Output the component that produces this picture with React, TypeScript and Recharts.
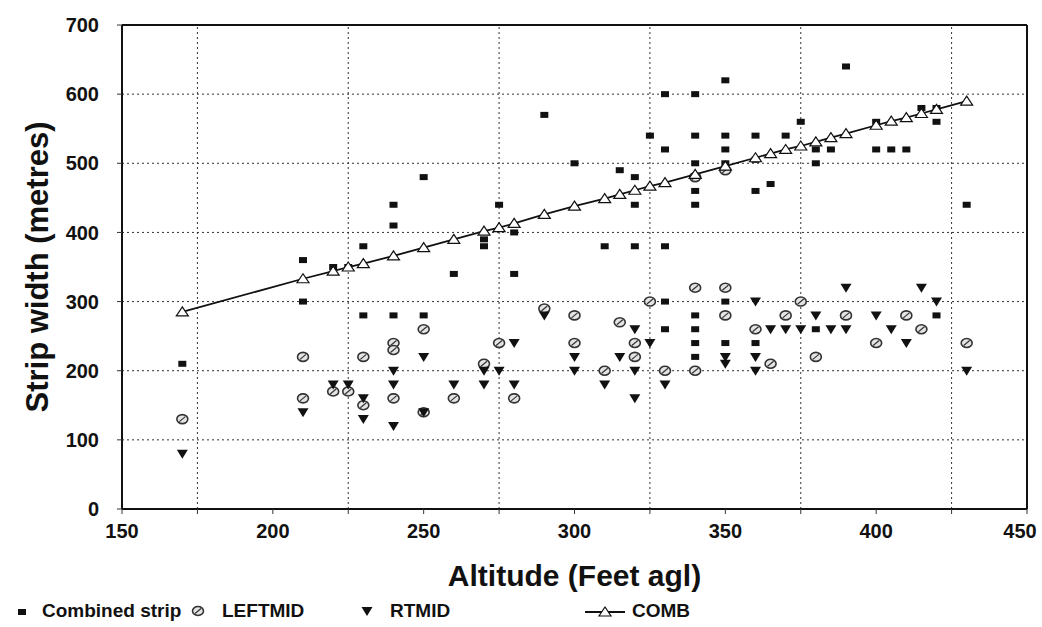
import { ScatterChart, Scatter, XAxis, YAxis, CartesianGrid, ReferenceLine, Legend } from "recharts"

// altitude (feet agl), strip width (metres)
const combinedStrip: [number, number][] = [
  [170, 210], [210, 360], [210, 300], [220, 350], [225, 350], [230, 380], [230, 280],
  [240, 440], [240, 410], [240, 280], [250, 480], [250, 280], [260, 340], [270, 390],
  [270, 380], [275, 440], [280, 400], [280, 340], [290, 570], [300, 500], [310, 380],
  [315, 490], [320, 480], [320, 440], [320, 380], [325, 540], [330, 600], [330, 520],
  [330, 380], [330, 300], [330, 260], [340, 600], [340, 540], [340, 500], [340, 480],
  [340, 460], [340, 440], [340, 280], [340, 260], [340, 240], [340, 220], [350, 620],
  [350, 540], [350, 520], [350, 500], [350, 300], [350, 240], [360, 540], [360, 505],
  [360, 460], [360, 240], [365, 470], [370, 540], [375, 560], [380, 520], [380, 500],
  [380, 260], [385, 520], [390, 640], [400, 560], [400, 520], [405, 520], [410, 520],
  [415, 580], [420, 580], [420, 560], [420, 280], [430, 440],
]

const leftMid: [number, number][] = [
  [170, 130], [210, 220], [210, 160], [220, 170], [225, 170], [230, 220], [230, 150],
  [240, 240], [240, 230], [240, 160], [250, 260], [250, 140], [260, 160], [270, 210],
  [275, 240], [280, 160], [290, 290], [300, 280], [300, 240], [310, 200], [315, 270],
  [320, 240], [320, 220], [325, 300], [330, 200], [340, 480], [340, 320], [340, 200],
  [350, 490], [350, 320], [350, 280], [360, 260], [365, 210], [370, 280], [375, 300],
  [380, 220], [390, 280], [400, 240], [410, 280], [415, 260], [430, 240],
]

const rtMid: [number, number][] = [
  [170, 80], [210, 140], [220, 180], [225, 180], [230, 160], [230, 130], [240, 200],
  [240, 180], [240, 120], [250, 220], [250, 140], [260, 180], [270, 200], [270, 180],
  [275, 200], [280, 240], [280, 180], [290, 280], [300, 220], [300, 200], [310, 180],
  [315, 220], [320, 260], [320, 200], [320, 160], [325, 240], [330, 180], [350, 220],
  [350, 210], [360, 300], [360, 220], [360, 200], [365, 260], [370, 260], [375, 260],
  [380, 280], [385, 260], [390, 320], [390, 260], [400, 280], [405, 260], [410, 240],
  [415, 320], [420, 300], [430, 200],
]

const comb: [number, number][] = [
  [170, 285], [210, 333], [220, 344], [225, 350], [230, 355], [240, 366], [250, 378],
  [260, 390], [270, 402], [275, 407], [280, 413], [290, 426], [300, 438], [310, 449],
  [315, 455], [320, 461], [325, 467], [330, 472], [340, 484], [350, 496], [360, 508],
  [365, 514], [370, 520], [375, 525], [380, 531], [385, 537], [390, 543], [400, 555],
  [405, 561], [410, 566], [415, 572], [420, 578], [430, 590],
]

const xTicks = [150, 175, 200, 225, 250, 275, 300, 325, 350, 375, 400, 425, 450]
const yTicks = [0, 100, 200, 300, 400, 500, 600, 700]
const gridAlts = [175, 225, 275, 325, 375, 425]

const toPoints = (rows: [number, number][]) => rows.map(([x, y]) => ({ x, y }))

const FONT = "'Liberation Sans', Arial, sans-serif"

const Square = ({ cx, cy }: any) => <rect x={cx - 4} y={cy - 3} width={8} height={6} fill="#111" />

const Oval = ({ cx, cy }: any) => (
  <g>
    <ellipse cx={cx} cy={cy} rx={5.5} ry={4.5} fill="#e4e4e4" stroke="#333" strokeWidth={1.6} />
    <line x1={cx - 3} y1={cy + 2.5} x2={cx + 3} y2={cy - 2.5} stroke="#333" strokeWidth={1.2} />
  </g>
)

const DownTri = ({ cx, cy }: any) => (
  <polygon points={`${cx - 5.5},${cy - 4} ${cx + 5.5},${cy - 4} ${cx},${cy + 5}`} fill="#111" />
)

const UpTri = ({ cx, cy }: any) => (
  <polygon
    points={`${cx - 6},${cy + 4} ${cx + 6},${cy + 4} ${cx},${cy - 5}`}
    fill="#fff"
    stroke="#111"
    strokeWidth={1.2}
  />
)

// last label would hang past the right edge, nudge it in a bit
const AltTick = ({ x, y, payload }: any) => {
  const v = payload.value as number
  if (v % 50 !== 0) return null
  return (
    <text
      x={v === 450 ? x - 7 : x}
      y={y}
      dy="0.71em"
      textAnchor="middle"
      fill="#111"
      fontSize={20}
      fontWeight={700}
      fontFamily={FONT}
    >
      {v}
    </text>
  )
}

const legendText = { position: "absolute" as const, top: 3, fontSize: 19, fontWeight: 700, fontFamily: FONT, color: "#111" }

const renderLegend = () => (
  <div style={{ position: "relative", width: 1042, height: 30 }}>
    <svg width={1042} height={30} style={{ position: "absolute", left: 0, top: 0 }}>
      <Square cx={22} cy={15} />
      <Oval cx={198} cy={14} />
      <DownTri cx={367} cy={14} />
      <line x1={585} y1={15} x2={625} y2={15} stroke="#111" strokeWidth={1.8} />
      <UpTri cx={605} cy={15} />
    </svg>
    <span style={{ ...legendText, left: 42 }}>Combined strip</span>
    <span style={{ ...legendText, left: 222 }}>LEFTMID</span>
    <span style={{ ...legendText, left: 390 }}>RTMID</span>
    <span style={{ ...legendText, left: 632 }}>COMB</span>
  </div>
)

export default function App() {
  return (
    <div style={{ position: "absolute", left: 0, top: 0, width: 1042, height: 627, background: "#fff" }}>
      <ScatterChart width={1042} height={627} margin={{ top: 25, right: 15, bottom: 0, left: 0 }}>
        <CartesianGrid vertical={false} stroke="#333" strokeDasharray="2 3" />
        {gridAlts.map((a) => (
          <ReferenceLine key={a} x={a} stroke="#333" strokeDasharray="2 3" />
        ))}
        <ReferenceLine y={700} stroke="#111" strokeWidth={2} />
        <ReferenceLine x={450} stroke="#111" strokeWidth={2} />
        <XAxis
          type="number"
          dataKey="x"
          domain={[150, 450]}
          ticks={xTicks}
          interval={0}
          height={88}
          axisLine={{ stroke: "#111", strokeWidth: 2 }}
          tickLine={{ stroke: "#333" }}
          tickSize={5}
          tickMargin={10}
          tick={<AltTick />}
          label={{
            value: "Altitude (Feet agl)",
            position: "insideBottom",
            offset: 11,
            fill: "#111",
            fontSize: 30,
            fontWeight: 700,
            fontFamily: FONT,
          }}
        />
        <YAxis
          type="number"
          dataKey="y"
          domain={[0, 700]}
          ticks={yTicks}
          interval={0}
          width={122}
          axisLine={{ stroke: "#111", strokeWidth: 2 }}
          tickLine={{ stroke: "#333" }}
          tickSize={5}
          tickMargin={18}
          tick={{ fill: "#111", fontSize: 20, fontWeight: 700, fontFamily: FONT }}
          label={{
            value: "Strip width (metres)",
            angle: -90,
            position: "center",
            dx: -24,
            fill: "#111",
            fontSize: 31,
            fontWeight: 700,
            fontFamily: FONT,
          }}
        />
        <Legend verticalAlign="bottom" content={renderLegend} wrapperStyle={{ height: 30, left: 0, width: 1042 }} />
        <Scatter name="Combined strip" data={toPoints(combinedStrip)} shape={Square} isAnimationActive={false} />
        <Scatter name="LEFTMID" data={toPoints(leftMid)} shape={Oval} isAnimationActive={false} />
        <Scatter name="RTMID" data={toPoints(rtMid)} shape={DownTri} isAnimationActive={false} />
        <Scatter
          name="COMB"
          data={toPoints(comb)}
          shape={UpTri}
          line={{ stroke: "#111", strokeWidth: 1.8 }}
          lineType="joint"
          isAnimationActive={false}
        />
      </ScatterChart>
    </div>
  )
}
